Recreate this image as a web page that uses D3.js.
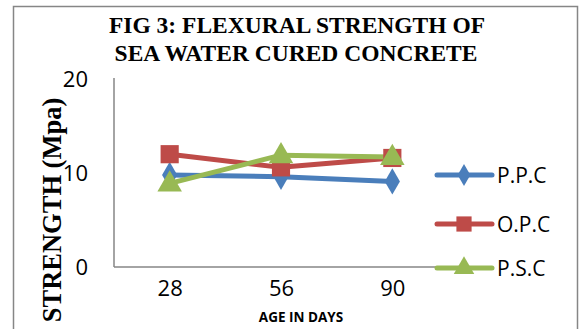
<!DOCTYPE html>
<html><head><meta charset="utf-8">
<script src="https://cdn.jsdelivr.net/npm/d3@7"></script>
<style>body{margin:0;background:#fff}svg{display:block}</style>
</head><body>
<script>
const categories = ["28", "56", "90"];
const seriesNames = ["P.P.C", "O.P.C", "P.S.C"];
const ppc = [9.8, 9.6, 9.1];
const opc = [12.0, 10.6, 11.6];
const psc = [8.9, 11.9, 11.7];
const yTicks = [0, 10, 20];
const colors = ["#4A7EBB", "#BE4B48", "#98B954"];
const shapes = [d3.symbolDiamond, d3.symbolSquare, d3.symbolTriangle];
const series = [ppc, opc, psc];

const W = 581, H = 329;
const svg = d3.select("body").append("svg").attr("width", W).attr("height", H);

// outer frame
svg.append("path").attr("d", "M13.5,340 V6.5 H577.5 V340")
  .attr("fill", "none").attr("stroke", "#868686").attr("stroke-width", 1.5);

// title
const title = svg.append("text").attr("text-anchor", "middle")
  .attr("font-family", "Liberation Serif, Times New Roman, serif")
  .attr("font-weight", "bold").attr("font-size", 23.5).attr("fill", "#000");
title.append("tspan").attr("x", 297).attr("y", 33).text("FIG 3: FLEXURAL STRENGTH OF");
title.append("tspan").attr("x", 296).attr("y", 61).text("SEA WATER CURED CONCRETE");

const x = d3.scalePoint().domain(categories).range([114, 448]).padding(0.5);
const y = d3.scaleLinear().domain([0, 20]).range([267, 79]);

// axes
const yAxis = svg.append("g").attr("transform", "translate(114,0)")
  .call(d3.axisLeft(y).tickValues(yTicks).tickSize(0).tickPadding(26));
const xAxis = svg.append("g").attr("transform", "translate(0,267)")
  .call(d3.axisBottom(x).tickSize(0).tickPadding(25));
[yAxis, xAxis].forEach(g => {
  g.select(".domain").attr("stroke", "#868686").attr("stroke-width", 1.5);
  g.selectAll("text").attr("font-family", "Open Sans, sans-serif")
    .attr("font-size", 22).attr("fill", "#000");
});
xAxis.select(".domain").attr("d", "M114,0H448");
yAxis.select(".domain").attr("d", "M0,267V78");
xAxis.selectAll("text").attr("dy", "0.2em");

// axis titles
svg.append("text").attr("transform", "translate(61,210) rotate(-90)")
  .attr("text-anchor", "middle")
  .attr("font-family", "Liberation Serif, Times New Roman, serif")
  .attr("font-weight", "bold").attr("font-size", 26.5).text("STRENGTH (Mpa)");
svg.append("text").attr("x", 301).attr("y", 322).attr("text-anchor", "middle")
  .attr("font-family", "Open Sans, sans-serif").attr("font-weight", "bold")
  .attr("font-size", 13.5).text("AGE IN DAYS");

// lines and markers
const line = d3.line().x((d, i) => x(categories[i])).y(d => y(d));
const sizes = [200, 330, 260];
series.forEach((vals, s) => {
  svg.append("path").datum(vals).attr("d", line)
    .attr("fill", "none").attr("stroke", colors[s]).attr("stroke-width", 5)
    .attr("stroke-linejoin", "round").attr("stroke-linecap", "round");
});
series.forEach((vals, s) => {
  svg.selectAll(null).data(vals).enter().append("path")
    .attr("transform", (d, i) => `translate(${x(categories[i])},${y(d) + (s === 2 ? 1 : 0)})`)
    .attr("d", d3.symbol().type(shapes[s]).size(sizes[s]))
    .attr("fill", colors[s]);
});

// legend
const legY = [175, 224, 268];
seriesNames.forEach((name, s) => {
  const g = svg.append("g").attr("transform", `translate(0,${legY[s]})`);
  g.append("line").attr("x1", 437).attr("x2", 492).attr("stroke", colors[s])
    .attr("stroke-width", 5).attr("stroke-linecap", "round");
  g.append("path").attr("transform", "translate(464,0)")
    .attr("d", d3.symbol().type(shapes[s]).size(sizes[s] * 0.7)).attr("fill", colors[s]);
  g.append("text").attr("x", 497).attr("y", 8).attr("font-family", "Open Sans, sans-serif")
    .attr("font-size", 21).text(name);
});
</script>
</body></html>
